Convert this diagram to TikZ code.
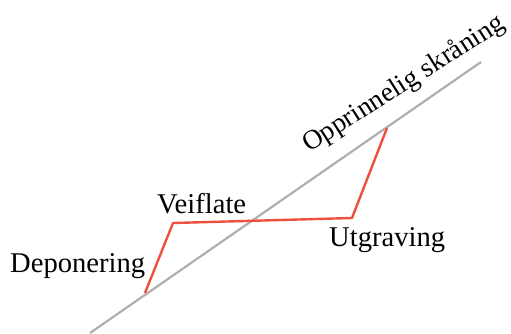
\documentclass[tikz,border=0pt]{standalone}
\usepackage{fontspec}
\setmainfont{Liberation Serif}
\definecolor{slopegray}{RGB}{175,175,175}
\definecolor{cutred}{RGB}{238,80,64}
\begin{document}
\begin{tikzpicture}[x=1pt, y=-1pt,
    lbl/.style={font=\fontsize{28.6}{34}\selectfont, inner sep=0pt}]
  \useasboundingbox (0,0) rectangle (511,333);

  % Original slope
  \coordinate (s0) at (90,333);
  \coordinate (s1) at (481,62);
  \draw[slopegray, line width=2.2pt] (s0) -- (s1);

  % Road profile: fill, road surface, cut
  \coordinate (p0) at (145,293);
  \coordinate (p1) at (173,223);
  \coordinate (p2) at (352,218);
  \coordinate (p3) at (387,128);
  \draw[cutred, line width=2.4pt, line join=round] (p0) -- (p1) -- (p2) -- (p3);

  % Labels
  \node[lbl, anchor=base west] (dep) at (10,272) {Deponering};
  \node[lbl, anchor=base west] (vei) at (157,213) {Veiflate};
  \node[lbl, anchor=base west] (utg) at (329,246) {Utgraving};
  \node[lbl, font=\fontsize{27.4}{32}\selectfont, anchor=base west, rotate=32.5]
    (opp) at (309,153) {Opprinnelig skråning};
\end{tikzpicture}
\end{document}
